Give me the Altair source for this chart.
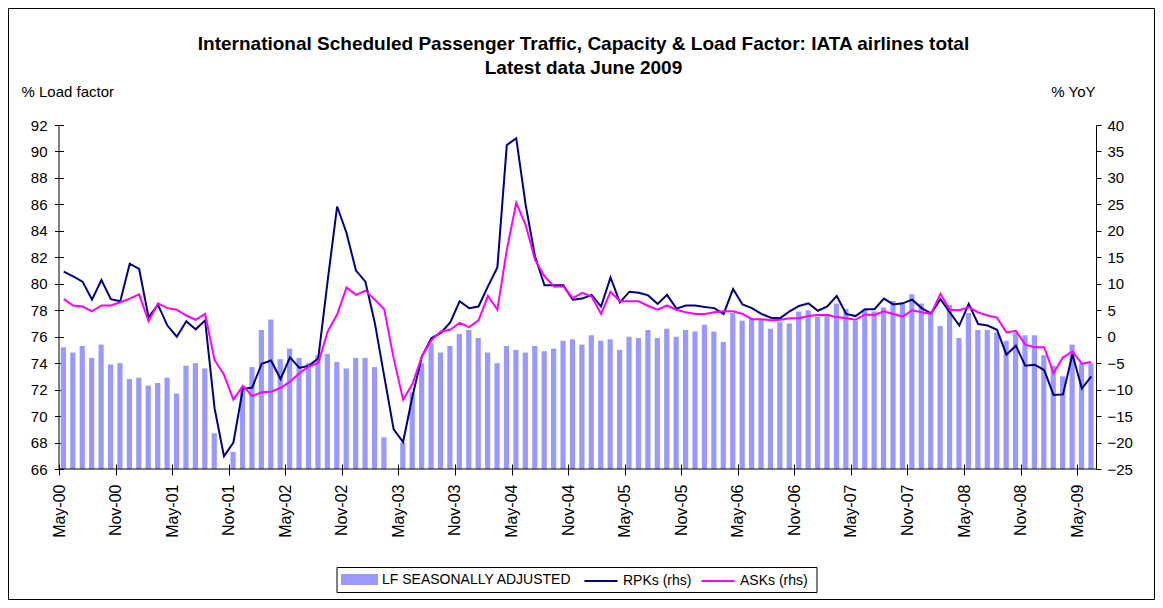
import altair as alt
import pandas as pd

# ---------------- data ----------------
MONTHS = pd.date_range("2000-05-01", periods=110, freq="MS").strftime("%b-%y").tolist()

TICK_LABELS = ["May-00", "Nov-00", "May-01", "Nov-01", "May-02", "Nov-02", "May-03",
               "Nov-03", "May-04", "Nov-04", "May-05", "Nov-05", "May-06", "Nov-06",
               "May-07", "Nov-07", "May-08", "Nov-08", "May-09"]

LF = [75.2, 74.8, 75.3, 74.4, 75.4, 73.9, 74.0, 72.8, 72.9, 72.3,
      72.5, 72.9, 71.7, 73.8, 74.0, 73.6, 68.7, 65.5, 67.3, 72.0,
      73.7, 76.5, 77.3, 74.3, 75.1, 74.4, 74.0, 74.6, 74.7, 74.1,
      73.6, 74.4, 74.4, 73.7, 68.4, 65.5, 68.0, 71.8, 74.0, 75.5,
      74.8, 75.3, 76.2, 76.5, 75.9, 74.8, 74.0, 75.3, 75.0, 74.8,
      75.3, 74.9, 75.1, 75.7, 75.8, 75.4, 76.1, 75.7, 75.8, 75.0,
      76.0, 75.9, 76.5, 75.9, 76.6, 76.0, 76.5, 76.4, 76.9, 76.4,
      75.6, 77.8, 77.2, 77.4, 77.3, 76.6, 77.1, 77.0, 77.9, 78.0,
      77.5, 77.7, 78.5, 78.1, 77.2, 78.1, 77.9, 78.2, 78.7, 78.5,
      79.2, 78.5, 77.9, 76.8, 78.4, 75.9, 77.8, 76.5, 76.5, 76.3,
      75.7, 76.3, 76.1, 76.1, 74.6, 73.8, 73.0, 75.4, 74.0, 74.0]

RPK = [12.3, 11.4, 10.4, 7.0, 10.7, 7.1, 6.7, 13.8, 12.8, 3.7,
       6.0, 2.1, 0.0, 2.9, 1.4, 3.1, -13.5, -22.6, -20.0, -9.9,
       -9.6, -5.1, -4.5, -8.0, -3.9, -5.9, -5.5, -4.1, 10.6, 24.6,
       19.6, 12.5, 10.4, 2.6, -7.5, -17.5, -19.9, -11.2, -3.7, -0.3,
       0.7, 2.7, 6.7, 5.4, 5.7, 9.5, 13.1, 36.2, 37.5, 24.9,
       15.1, 9.7, 9.7, 9.7, 7.0, 7.2, 7.9, 5.7, 11.2, 6.5,
       8.5, 8.3, 7.8, 6.2, 7.9, 5.3, 5.9, 5.9, 5.6, 5.4,
       4.3, 9.0, 6.1, 5.4, 4.3, 3.6, 3.5, 4.8, 5.8, 6.3,
       4.9, 5.7, 7.7, 4.3, 3.9, 5.2, 5.2, 7.2, 6.1, 6.3,
       7.0, 5.4, 4.4, 7.1, 4.6, 2.1, 6.2, 2.4, 2.1, 1.3,
       -3.4, -1.7, -5.5, -5.3, -6.3, -11.0, -10.9, -3.3, -9.8, -7.5]

ASK = [7.1, 5.9, 5.7, 4.8, 5.9, 5.9, 6.5, 7.2, 8.0, 2.9,
       6.3, 5.4, 5.1, 4.0, 3.2, 4.3, -4.4, -7.2, -11.9, -9.3,
       -11.2, -10.5, -10.4, -9.7, -8.5, -6.9, -5.6, -5.0, 1.0, 4.2,
       9.3, 7.9, 8.7, 7.0, 5.2, -4.1, -11.9, -8.9, -3.7, -0.7,
       1.0, 1.3, 2.6, 1.8, 3.1, 7.7, 5.1, 16.4, 25.3, 21.1,
       14.5, 11.4, 9.5, 9.5, 7.3, 8.3, 7.6, 4.3, 8.5, 6.7,
       6.7, 6.7, 5.8, 5.1, 5.9, 5.1, 4.6, 4.3, 4.3, 4.6,
       4.8, 4.8, 4.3, 3.3, 3.3, 3.1, 3.2, 3.5, 3.5, 3.9,
       4.1, 4.1, 3.7, 3.5, 3.2, 4.2, 4.1, 4.8, 4.3, 3.8,
       5.0, 4.6, 4.3, 8.1, 5.1, 5.0, 5.6, 4.6, 4.0, 3.6,
       0.8, 1.1, -1.5, -2.0, -2.0, -6.9, -3.9, -2.8, -5.1, -4.8]

BAR_SERIES = ["LF SEASONALLY ADJUSTED"]
BAR_COLORS = ["#9999ff"]
LINE_SERIES = ["RPKs (rhs)", "ASKs (rhs)"]
LINE_COLORS = ["#000080", "#ff00ff"]
LEFT_TICKS = list(range(66, 93, 2))
RIGHT_TICKS = list(range(-25, 41, 5))

# ---------------- styling ----------------
FONT = "Liberation Sans"
W, H = 1037, 344

n = len(MONTHS)
bars_df = pd.DataFrame({"idx": list(range(n)), "month": MONTHS, "LF": LF,
                        "series": BAR_SERIES[0]})
lines_df = pd.concat([
    pd.DataFrame({"idx": list(range(n)), "month": MONTHS, "value": RPK, "series": LINE_SERIES[0]}),
    pd.DataFrame({"idx": list(range(n)), "month": MONTHS, "value": ASK, "series": LINE_SERIES[1]}),
], ignore_index=True)

label_expr = "[" + ",".join("'%s'" % t for t in TICK_LABELS) + "][round(datum.value/6)]"

x_scale = alt.Scale(domain=[0, n], nice=False, zero=False)
x_axis = alt.Axis(values=list(range(0, n, 6)), labelExpr=label_expr, labelAngle=-90,
                  labelFont=FONT, labelFontSize=16, labelColor="black",
                  domain=False, ticks=True, tickColor="black", tickSize=11, offset=-5,
                  labelPadding=9, grid=False, title=None)

common_legend = dict(title=None, orient="none", direction="horizontal", padding=0,
                     labelFont=FONT, labelFontSize=14, labelColor="black", labelOffset=4,
                     labelLimit=400)
bar_legend = alt.Legend(legendX=282, legendY=436, symbolType="M-1,-0.3H1V0.3H-1Z",
                        symbolSize=1369, symbolStrokeWidth=0, **common_legend)
line_legend = alt.Legend(legendX=524, legendY=438, symbolType="stroke",
                         symbolSize=1100, symbolStrokeWidth=2, columnPadding=5,
                         **common_legend)

left_axis = alt.Axis(orient="left", values=LEFT_TICKS, title="% Load factor", titleAngle=0,
                     titleAlign="left", titleBaseline="middle", titleX=-42.5, titleY=-34,
                     titleFont=FONT, titleFontSize=15, titleFontWeight="normal", titleColor="black",
                     labelFont=FONT, labelFontSize=15, labelColor="black",
                     domain=False, tickColor="black", tickSize=9, offset=-4.5,
                     labelPadding=7.5, grid=False)
right_axis = alt.Axis(orient="right", values=RIGHT_TICKS, title="% YoY", titleAngle=0,
                      titleAlign="right", titleBaseline="middle", titleX=-1, titleY=-34,
                      titleFont=FONT, titleFontSize=15, titleFontWeight="normal", titleColor="black",
                      labelFont=FONT, labelFontSize=15, labelColor="black",
                      domain=True, domainColor="black", tickColor="black", tickSize=5,
                      labelPadding=6, grid=False)

bars = alt.Chart(bars_df).transform_calculate(
    x0="datum.idx + 0.19", x1="datum.idx + 0.74"
).mark_bar().encode(
    x=alt.X("x0:Q", scale=x_scale, axis=x_axis),
    x2="x1:Q",
    y=alt.Y("LF:Q", scale=alt.Scale(domain=[66, 92], nice=False, zero=False, clamp=True),
            axis=left_axis),
    y2=alt.datum(66),
    fill=alt.Fill("series:N", scale=alt.Scale(domain=BAR_SERIES, range=BAR_COLORS),
                  legend=bar_legend),
)

lines = alt.Chart(lines_df).transform_calculate(
    mid="datum.idx + 0.5"
).mark_line(strokeWidth=2).encode(
    x=alt.X("mid:Q", scale=x_scale, axis=x_axis),
    y=alt.Y("value:Q", scale=alt.Scale(domain=[-25, 40], nice=False, zero=False),
            axis=right_axis),
    stroke=alt.Stroke("series:N", scale=alt.Scale(domain=LINE_SERIES, range=LINE_COLORS),
                      legend=line_legend),
)

one = pd.DataFrame({"k": [0]})
left_line = alt.Chart(one).mark_rule(color="black", strokeWidth=1).encode(
    x=alt.value(0), y=alt.value(0), y2=alt.value(H))
bottom_line = alt.Chart(one).mark_rule(color="black", strokeWidth=1).encode(
    x=alt.value(0), x2=alt.value(W), y=alt.value(H))
legend_box = alt.Chart(one).mark_rect(fillOpacity=0, stroke="black", strokeWidth=1).encode(
    x=alt.value(278), x2=alt.value(758), y=alt.value(442.5), y2=alt.value(467.5))
frame = alt.Chart(one).mark_rect(fillOpacity=0, stroke="black", strokeWidth=1).encode(
    x=alt.value(-50.5), x2=alt.value(W + 58.5), y=alt.value(-116.5), y2=alt.value(H + 130.5))

chart = alt.layer(bars, lines, left_line, bottom_line, legend_box, frame).resolve_scale(
    y="independent"
).properties(
    width=W, height=H,
    padding={"left": 51, "top": 117, "right": 59, "bottom": 131},
    autosize=alt.AutoSizeParams(type="none"),
    title=alt.TitleParams(
        text=["International Scheduled Passenger Traffic, Capacity & Load Factor: IATA airlines total",
              "Latest data June 2009"],
        font=FONT, fontSize=19, fontWeight="bold", color="black",
        anchor="middle", frame="group", dx=6, offset=-70, lineHeight=24),
    background="white",
).configure_view(strokeWidth=0)

chart.save("out.html", embed_options={"renderer": "svg", "actions": False})
